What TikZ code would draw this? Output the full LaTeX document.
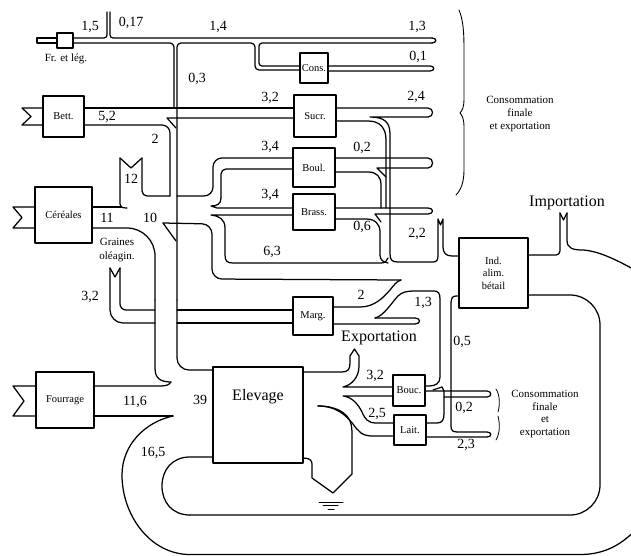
\documentclass[tikz,border=0pt]{standalone}
\usepackage{fontspec}
\setmainfont{Liberation Serif}
\begin{document}
\begin{tikzpicture}[x=1pt,y=-1pt,line width=1.25pt,line join=round,line cap=round,
  bx/.style={draw,fill=white,inner sep=0pt,font=\fontsize{10.5}{12.5}\selectfont,align=center},
  num/.style={inner sep=0pt,font=\fontsize{14}{16}\selectfont},
  big/.style={inner sep=0pt,font=\fontsize{16}{18}\selectfont},
  sm/.style={inner sep=0pt,font=\fontsize{11}{13}\selectfont,align=center}]
\useasboundingbox (0,0) rectangle (631,556);
\clip (0,0) rectangle (631,556);
% boxes
\node[bx,minimum width=16pt,minimum height=15pt] (fr) at (65,40.5) {};
\node[bx,minimum width=41pt,minimum height=41pt] (bett) at (63.5,116.5) {Bett.};
\node[bx,minimum width=57pt,minimum height=56pt] (cer) at (63.5,215) {Céréales};
\node[bx,minimum width=58pt,minimum height=56pt] (four) at (65,400) {Fourrage};
\node[bx,minimum width=28pt,minimum height=30pt] (cons) at (314,68) {Cons.};
\node[bx,minimum width=42pt,minimum height=42pt] (sucr) at (315,116) {Sucr.};
\node[bx,minimum width=42pt,minimum height=39pt] (boul) at (314,167.5) {Boul.};
\node[bx,minimum width=42pt,minimum height=36pt] (brass) at (314,212) {Brass.};
\node[bx,minimum width=40pt,minimum height=38pt] (marg) at (313,316) {Marg.};
\node[bx,minimum width=90pt,minimum height=96pt] (elev) at (258,415) {};
\node[bx,minimum width=69pt,minimum height=70pt] (ind) at (493.5,273) {Ind.\\alim.\\bétail};
\node[bx,minimum width=32pt,minimum height=31pt] (bouc) at (409,390.5) {Bouc.};
\node[bx,minimum width=32pt,minimum height=30pt] (lait) at (410,430) {Lait.};
% Fr et leg
\draw (57,38) -- (37,38) -- (37,43) -- (57,43);
\draw[rounded corners=3pt] (73,38) -- (107,38) -- (107,12);
\draw[rounded corners=3pt] (110,12) -- (110,38) -- (432,38);
\draw (432,38) .. controls (437,38) and (437,43) .. (432,43);
\draw[rounded corners=3pt] (432,43) -- (259,43) -- (259,66) -- (300,66);
\draw[rounded corners=4pt] (73,43) -- (174,43) -- (174,108);
\draw[rounded corners=4pt] (300,70) -- (255,70) -- (255,43) -- (177,43) -- (177,300);
\draw[rounded corners=12pt] (177,300) -- (177,370) -- (213,370);
\draw (328,66) -- (430,66) .. controls (435,66) and (435,71) .. (430,71) -- (328,71);
% Bett
\draw (43,108) -- (22,108) -- (31,116.5) -- (22,125) -- (43,125);
\draw (84,108) -- (294,108);
\draw[rounded corners=8pt] (84,125) -- (170,125) -- (170,196);
\draw (294,118) -- (167,118) -- (176,128);
% Sucr
\draw (336,108) -- (428,108) .. controls (434,108) and (434,117) .. (428,117) -- (370,117) .. controls (384,117) and (390,122) .. (390,134) -- (390,254) .. controls (390,260) and (392,262) .. (398,262) -- (433,262) .. controls (437,262) and (438,260) .. (438,255) -- (438,219) -- (440.5,225) -- (443,219) -- (443,247) .. controls (443,253) and (446,256) .. (452,256) -- (459,256);
\draw (336,121) -- (368,121) .. controls (380,121) and (386,128) .. (386,140) -- (386,208);
% Boul
\draw (335,158) -- (428,158) .. controls (434,158) and (434,168) .. (428,168) -- (377,168) -- (386,177);
\draw (335,172) -- (368,172) .. controls (377,172) and (381,177) .. (381,185) -- (381,208);
% Brass
\draw (335,208) -- (428,208) .. controls (434,208) and (434,214) .. (428,214) -- (375,214) -- (381,222);
\draw (335,219) -- (366,219) .. controls (375,219) and (380,224) .. (380,232) -- (380,255) .. controls (380,260) and (383,262) .. (388,263);
% Cereales
\draw (35,207) -- (13,207) -- (22,217.5) -- (13,228) -- (35,228);
\draw (92,207) -- (121,207);
\draw (120,158) -- (120,204) .. controls (120,207) and (122,208) .. (127,208);
\draw (120,158) -- (131,168) -- (142,158);
\draw[rounded corners=5pt] (142,158) -- (142,196) -- (170,196);
\draw[rounded corners=9pt] (177,196) -- (213,196) -- (213,158) -- (293,158);
\draw[rounded corners=5pt] (293,169) -- (221,169) -- (221,198);
\draw (221,198) .. controls (221,204) and (217,206) .. (211,206) -- (217,208) -- (293,208);
\draw (293,215) -- (211,215) .. controls (219,216) and (225,219) .. (225,228) -- (225,255) .. controls (225,261) and (227,263) .. (233,263) -- (381,263) .. controls (385,263) and (387,261) .. (388,258);
\draw (176,241) -- (163,223);
\draw[rounded corners=10pt] (163,223) -- (212,224) -- (212,279) -- (401,280);
\draw[rounded corners=28pt] (92,228) -- (155,228) -- (155,300);
\draw (155,300) -- (155,368) .. controls (155,378) and (160,382) .. (171,382);
% Fourrage
\draw (36,386) -- (13,386) -- (24,401) -- (13,416) -- (36,416);
\draw (94,386) -- (160,386) .. controls (166,386) and (169,385) .. (171,382);
\draw (94,416) -- (173,416);
% loops
\draw (173,416) .. controls (145,422) and (122,445) .. (122,475) .. controls (122,515) and (150,554.5) .. (190,554.5) -- (580,554.5) .. controls (600,554.5) and (615,548) .. (628,537) .. controls (650,520) and (668,470) .. (668,400) .. controls (668,330) and (660,285) .. (635,270) .. controls (620,262) and (600,251) .. (583,250) .. controls (572,250) and (567,248) .. (567,240) -- (567,213);
\draw (560,213) -- (563.5,220) -- (567,213);
\draw[rounded corners=4pt] (560,213) -- (560,255) -- (528,255);
\draw (213,457) -- (190,457) .. controls (172,457) and (162,470) .. (162,486) .. controls (162,502) and (172,515) .. (190,515);
\draw[rounded corners=30pt] (190,515) -- (600,515) -- (600,295) -- (528,295);
% Graines
\draw (110,268) -- (115,277) -- (120,268);
\draw[rounded corners=13pt] (110,268) -- (110,323) -- (155,323);
\draw[rounded corners=6pt] (120,268) -- (120,310) -- (155,310);
\draw (177,310) -- (293,310);
\draw (177,323) -- (293,323);
% Marg outputs
\draw (333,307) -- (360,307) .. controls (374,307) and (383,298) .. (390,290) .. controls (394,285) and (397,281) .. (401,280);
\draw (375,318) .. controls (384,316) and (392,302) .. (398,296) .. controls (402,292) and (407,291) .. (414,291) -- (434,291) .. controls (438,291) and (440,293) .. (440,299) -- (440,377) .. controls (440,383) and (436,386) .. (429,386) -- (425,386);
\draw (375,318) -- (415,318) .. controls (421,318) and (421,324) .. (415,324) -- (333,324);
% down band to consumption
\draw (459,296) -- (456,296) .. controls (452,296) and (451,299) .. (451,304) -- (451,426) .. controls (451,431) and (453,432) .. (458,432) -- (487,432) .. controls (492,432) and (492,437) .. (487,437) -- (426,437);
\draw (426,423) -- (437,423) .. controls (442,423) and (444,420) .. (444,414) -- (444,391) -- (442,387) -- (433,390);
\draw (425,391) -- (487,391) .. controls (492,391) and (492,397) .. (487,397) -- (444,397);
% Elevage outputs
\draw (303,372) -- (342,372) .. controls (348,372) and (350,369) .. (350,363) -- (350,356) -- (354.5,349) -- (359,356) -- (359,366) .. controls (359,377) and (352,385) .. (343,387) -- (393,387);
\draw (393,396) -- (343,396) .. controls (352,397) and (358,404) .. (362,412) .. controls (365,419) and (368,423) .. (376,423) -- (394,423);
\draw (318,406) .. controls (335,406) and (345,414) .. (353,424) .. controls (358,431) and (362,436) .. (372,436) -- (394,436);
\draw (318,406) .. controls (335,406) and (346,412) .. (350,421) .. controls (352,426) and (352,430) .. (352,436) -- (352,474) -- (333,493) -- (312,478) -- (312,464) .. controls (312,460) and (309,458) .. (303,458);
\draw[line width=1pt] (319,502) -- (343,502) (323,505.5) -- (338,505.5) (328,509) -- (334,509);
% braces
\draw[line width=0.9pt] (459,10) .. controls (463,20) and (464,30) .. (464,50) -- (464,100) .. controls (464,107) and (462,111) .. (460,113) .. controls (462,115) and (464,119) .. (464,126) -- (464,170) .. controls (464,182) and (461,190) .. (456,195);
\draw[line width=0.8pt] (496,389) .. controls (500,395) and (500,405) .. (498,412);
\draw[line width=0.8pt] (498,416) .. controls (500,424) and (500,433) .. (496,440);
% texts
\node[sm] (tfr) at (66,59) {Fr. et lég.};
\node[sm,font=\fontsize{11}{14}\selectfont] (tgr) at (117,250) {Graines\\oléagin.};
\node[sm] (tc1) at (520,114) {Consommation\\finale\\et exportation};
\node[sm,font=\fontsize{11}{12.7}\selectfont] (tc2) at (545,414) {Consommation\\finale\\et\\exportation};
\node[big] (texp) at (379,338) {Exportation};
\node[big] (timp) at (567,203) {Importation};
\node[big] (telev) at (258,397) {Elevage};
\node[num] at (90,27) {1,5};
\node[num] at (131,23) {0,17};
\node[num] at (218,27) {1,4};
\node[num] at (417,27) {1,3};
\node[num] at (418,57) {0,1};
\node[num] at (197,79) {0,3};
\node[num] at (270,98) {3,2};
\node[num] at (107,117) {5,2};
\node[num] at (155,139) {2};
\node[num] at (416,97) {2,4};
\node[num] at (270,147) {3,4};
\node[num] at (362,148) {0,2};
\node[num] at (270,195) {3,4};
\node[num] at (362,227) {0,6};
\node[num] at (417,234) {2,2};
\node[num] at (131,179) {12};
\node[num] at (107,218) {11};
\node[num] at (150,218) {10};
\node[num] at (272,252) {6,3};
\node[num] at (90,297) {3,2};
\node[num] at (361,295) {2};
\node[num] at (423,303) {1,3};
\node[num] at (462,342) {0,5};
\node[num] at (375,376) {3,2};
\node[num] at (377,414) {2,5};
\node[num] at (464,408) {0,2};
\node[num] at (466,445) {2,3};
\node[num] at (135,402) {11,6};
\node[num] at (200,400) {39};
\node[num] at (153,453) {16,5};
\end{tikzpicture}
\end{document}
